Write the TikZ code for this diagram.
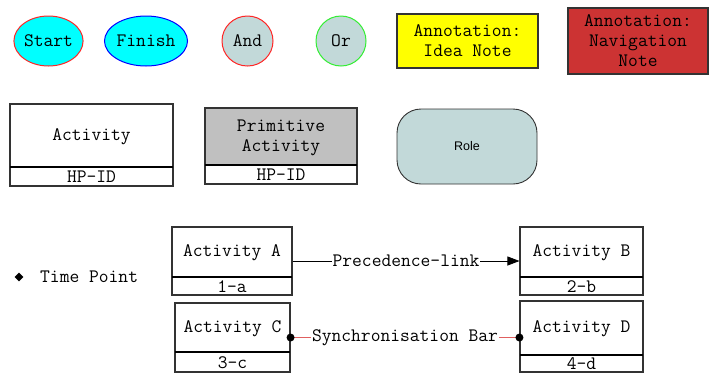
\documentclass[tikz,border=0pt]{standalone}
\usepackage{fontspec}
\newfontfamily\rolefont{Liberation Sans}
\usetikzlibrary{shapes.geometric,fit,arrows.meta}
\definecolor{startcyan}{HTML}{00FFFF}
\definecolor{logicfill}{HTML}{C2D9D9}
\definecolor{ideayellow}{HTML}{FFFF00}
\definecolor{navred}{HTML}{CC3333}
\definecolor{primgray}{HTML}{C0C0C0}
\definecolor{framegray}{HTML}{333333}
\definecolor{syncred}{HTML}{E06060}
\definecolor{okgreen}{HTML}{33EE33}
\tikzset{
  mono/.style={font=\fontsize{19}{20}\selectfont\ttfamily, inner sep=0pt},
  ovalnode/.style={ellipse, line width=1pt, inner sep=0pt, mono},
  notebox/.style={rectangle, draw=framegray, line width=1.2pt, inner sep=0pt, mono, align=center},
  actframe/.style={rectangle, draw=framegray, line width=1.1pt, inner sep=0pt},
  actsep/.style={draw=black, line width=2.2pt},
  rolebox/.style={rectangle, rounded corners=24pt, draw=framegray, line width=0.9pt, fill=logicfill, font=\rolefont\fontsize{12.5}{14}\selectfont},
  preclink/.style={draw=black, line width=0.8pt},
  synclink/.style={draw=syncred, line width=0.8pt},
  syncdot/.style={circle, fill=black, inner sep=0pt, minimum size=8pt},
  linklabel/.style={mono, fill=white, inner xsep=1pt}
}
\newcommand{\actbox}[9]{%
  \fill[#9] (#2,#3) rectangle (#4,#5);
  \node[actframe, fit={(#2,#3) (#4,#6)}] (#1) {};
  \draw[actsep] (#2,#5) -- (#4,#5);
  \node[mono, align=center] (#1-title) at ({(#2+#4)/2},{(#3+#5)/2+1}) {#7};
  \node[mono] (#1-id) at ({(#2+#4)/2},{(#5+#6)/2+0.5}) {#8};
}
\begin{document}
\begin{tikzpicture}[x=1pt,y=-1pt]
\useasboundingbox[fill=white] (0,0) rectangle (709,373);
% top row
\node[ovalnode, draw=red!85, fill=startcyan, minimum width=63pt, minimum height=50pt] (start) at (48.5,41) {Start};
\node[ovalnode, draw=blue, fill=startcyan, minimum width=78pt, minimum height=50pt] (finish) at (146,41) {Finish};
\node[ovalnode, draw=red!85, fill=logicfill, minimum width=51pt, minimum height=50pt] (and) at (247.5,41) {And};
\node[ovalnode, draw=okgreen, fill=logicfill, minimum width=50pt, minimum height=50pt] (or) at (341,41) {Or};
\node[notebox, fill=ideayellow, minimum width=141pt, minimum height=54pt] (idea) at (467.5,41) {Annotation:\\Idea Note};
\node[notebox, fill=navred, minimum width=140pt, minimum height=66pt] (nav) at (638,41) {Annotation:\\Navigation\\Note};
% middle row
\actbox{act}{10}{104}{173}{167}{186}{Activity}{HP-ID}{white}
\actbox{prim}{205}{108}{357}{165}{184}{Primitive\\Activity}{HP-ID}{primgray}
\node[rolebox, minimum width=140pt, minimum height=75pt] (role) at (467,146.5) {Role};
% bottom
\node[diamond, fill=black, inner sep=0pt, minimum size=9pt] (tp) at (19,277) {};
\node[mono, anchor=west] (tplabel) at (40,277) {Time Point};
\actbox{A}{172}{227}{292}{277}{295}{Activity A}{1-a}{white}
\actbox{B}{520}{227}{643}{277}{295}{Activity B}{2-b}{white}
\actbox{C}{175}{303}{290}{352}{372}{Activity C}{3-c}{white}
\actbox{D}{520}{301}{643}{355}{372}{Activity D}{4-d}{white}
\draw[preclink, -{Triangle[length=12pt,width=9pt]}] (A.east) -- node[linklabel] (plabel) {Precedence-link} (B.west |- A.east);
\draw[synclink] (C.east) -- node[linklabel] (slabel) {Synchronisation Bar} (D.west |- C.east);
\node[syncdot] (cdot) at (C.east) {};
\node[syncdot] (ddot) at (D.west |- C.east) {};
\end{tikzpicture}
\end{document}
